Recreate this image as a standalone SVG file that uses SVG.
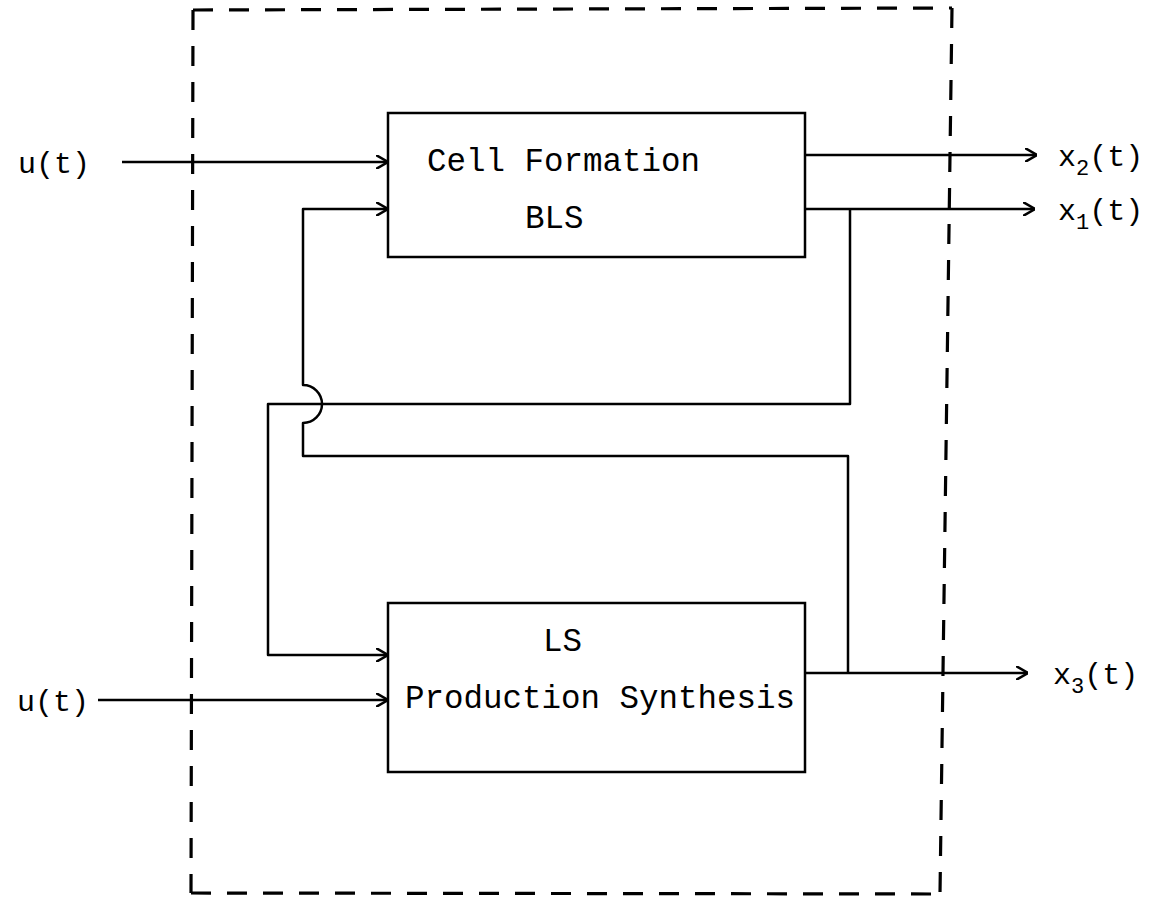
<svg xmlns="http://www.w3.org/2000/svg" width="1155" height="904" viewBox="0 0 1155 904">
<style>
  .box{fill:none;stroke:#000;stroke-width:2.5}
  .ln{fill:none;stroke:#000;stroke-width:2.5;stroke-linejoin:round}
  .dash{fill:none;stroke:#000;stroke-width:3.2;stroke-dasharray:20 16}
  .t{font-family:"Liberation Mono","DejaVu Sans Mono",monospace;font-size:30px;fill:#000}
  .bt{font-family:"Liberation Mono","DejaVu Sans Mono",monospace;font-size:32.5px;fill:#000}
</style>
<defs>
  <marker id="arr" viewBox="0 0 12 14" refX="12" refY="7" markerWidth="12" markerHeight="14" markerUnits="userSpaceOnUse" orient="auto">
    <path d="M0,0 L12,7 L0,14" fill="none" stroke="#000" stroke-width="2.5"/>
  </marker>
</defs>
<rect width="1155" height="904" fill="#fff"/>
<g id="boundary">
  <path class="dash" d="M193,10 L952,8"/>
  <path class="dash" d="M952,8 L940,894"/>
  <path class="dash" d="M191,893 L940,894"/>
  <path class="dash" d="M193,10 L191,893"/>
</g>
<g id="connectors">
  <path class="ln" d="M122,162 H388" marker-end="url(#arr)"/>
  <path class="ln" d="M98,700 H388" marker-end="url(#arr)"/>
  <path class="ln" d="M805,155 H1037" marker-end="url(#arr)"/>
  <path class="ln" d="M805,209 H1035" marker-end="url(#arr)"/>
  <path class="ln" d="M805,673 H1028" marker-end="url(#arr)"/>
  <path class="ln" d="M850,209 V404 H268 V655 H388" marker-end="url(#arr)"/>
  <path class="ln" d="M848,673 V456 H303 V423 A19,19 0 0 0 303,385 V209 H388" marker-end="url(#arr)"/>
</g>
<g id="cell-formation">
  <rect class="box" x="388" y="113" width="417" height="144"/>
  <text class="bt" x="427" y="171">Cell Formation</text>
  <text class="bt" x="525" y="228">BLS</text>
</g>
<g id="production-synthesis">
  <rect class="box" x="388" y="603" width="417" height="169"/>
  <text class="bt" x="543" y="651">LS</text>
  <text class="bt" x="405" y="708">Production Synthesis</text>
</g>
<g id="labels">
  <text class="t" x="18" y="173">u(t)</text>
  <text class="t" x="17" y="711">u(t)</text>
  <text class="t" x="1058" y="166">x<tspan dy="9" font-size="22">2</tspan><tspan dy="-9">(t)</tspan></text>
  <text class="t" x="1058" y="220">x<tspan dy="9" font-size="22">1</tspan><tspan dy="-9">(t)</tspan></text>
  <text class="t" x="1053" y="684">x<tspan dy="9" font-size="22">3</tspan><tspan dy="-9">(t)</tspan></text>
</g>
</svg>
